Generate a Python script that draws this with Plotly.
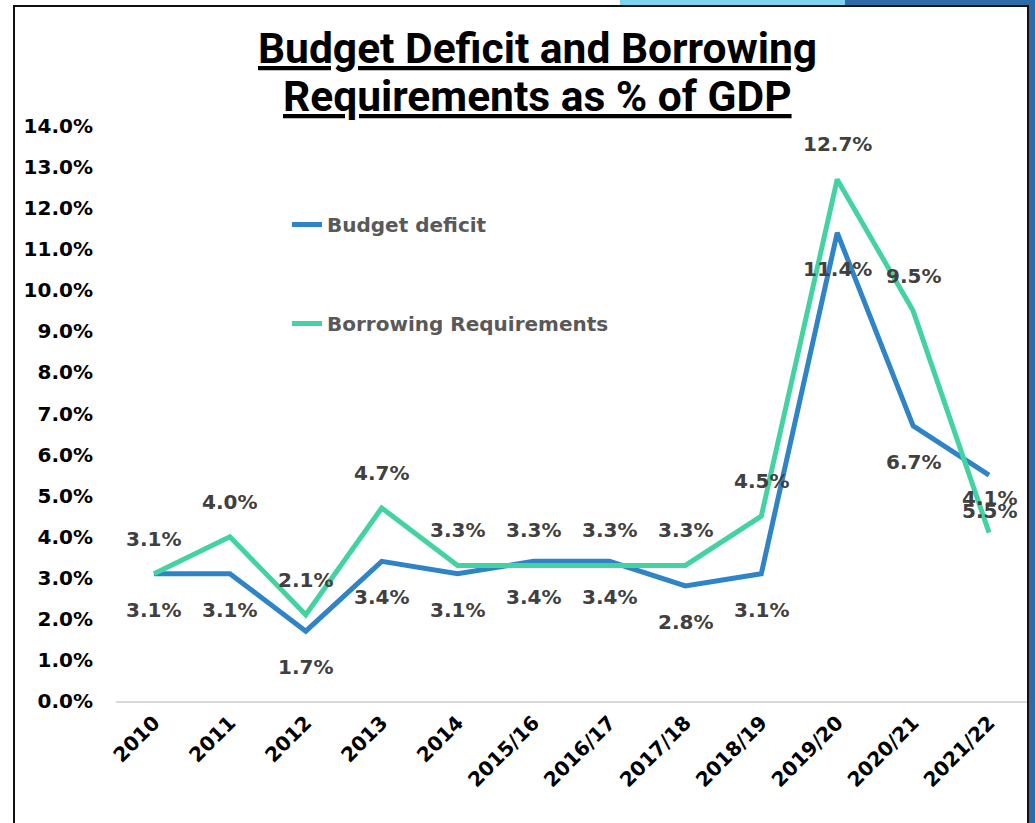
import plotly.graph_objects as go

categories = ["2010", "2011", "2012", "2013", "2014", "2015/16", "2016/17",
              "2017/18", "2018/19", "2019/20", "2020/21", "2021/22"]
budget_deficit = [3.1, 3.1, 1.7, 3.4, 3.1, 3.4, 3.4, 2.8, 3.1, 11.4, 6.7, 5.5]
borrowing_req = [3.1, 4.0, 2.1, 4.7, 3.3, 3.3, 3.3, 3.3, 4.5, 12.7, 9.5, 4.1]
y_ticks = [i for i in range(0, 15)]

W, H = 1035, 823
ML, MR, MT, MB = 116, 8, 126, 122
PW, PH = W - ML - MR, H - MT - MB


def px(x):
    return (x - ML) / PW


def py(y):
    return 1 - (y - MT) / PH


BLUE = "#2E84C6"
GREEN = "#43D3A0"
LABEL = "#404040"
FONT = "DejaVu Sans"

fig = go.Figure()
fig.add_trace(go.Scatter(x=categories, y=budget_deficit, mode="lines",
                         name="Budget deficit", legendgroup="a",
                         line=dict(color=BLUE, width=5)))
fig.add_trace(go.Scatter(x=categories, y=borrowing_req, mode="lines",
                         name="Borrowing Requirements", legendgroup="b",
                         line=dict(color=GREEN, width=5)))

annotations = []
for i, v in enumerate(borrowing_req):
    annotations.append(dict(x=i, y=v, xref="x", yref="y", text=f"{v:.1f}%",
                            showarrow=False, yshift=35,
                            font=dict(family=FONT, size=20, color=LABEL, weight="bold")))
for i, v in enumerate(budget_deficit):
    annotations.append(dict(x=i, y=v, xref="x", yref="y", text=f"{v:.1f}%",
                            showarrow=False, yshift=-36,
                            font=dict(family=FONT, size=20, color=LABEL, weight="bold")))

title_font = dict(family="Roboto, sans-serif", size=42.5, color="#000000", weight="bold")
annotations.append(dict(x=px(537), y=py(48), xref="paper", yref="paper",
                        text="<u>Budget Deficit and Borrowing</u>", showarrow=False,
                        xanchor="center", yanchor="middle", font=title_font))
annotations.append(dict(x=px(537), y=py(96), xref="paper", yref="paper",
                        text="<u>Requirements as % of GDP</u>", showarrow=False,
                        xanchor="center", yanchor="middle", font=title_font))

shapes = [
    dict(type="rect", xref="paper", yref="paper", x0=px(620), x1=px(845), y0=py(0), y1=py(5),
         fillcolor="#7DD3F0", line=dict(width=0), layer="above"),
    dict(type="rect", xref="paper", yref="paper", x0=px(845), x1=px(1035), y0=py(0), y1=py(5),
         fillcolor="#2B6CA6", line=dict(width=0), layer="above"),
    dict(type="rect", xref="paper", yref="paper", x0=px(1029), x1=px(1035), y0=py(0), y1=py(823),
         fillcolor="#2B6CA6", line=dict(width=0), layer="above"),
    dict(type="line", xref="paper", yref="paper", x0=px(13), x1=px(1029), y0=py(6), y1=py(6),
         line=dict(color="#111111", width=2), layer="above"),
    dict(type="line", xref="paper", yref="paper", x0=px(14), x1=px(14), y0=py(6), y1=py(823),
         line=dict(color="#111111", width=2), layer="above"),
    dict(type="line", xref="paper", yref="paper", x0=px(1028), x1=px(1028), y0=py(6), y1=py(823),
         line=dict(color="#111111", width=2), layer="above"),
]

fig.update_layout(
    width=W, height=H,
    margin=dict(l=ML, r=MR, t=MT, b=MB),
    paper_bgcolor="white", plot_bgcolor="white",
    annotations=annotations, shapes=shapes,
    showlegend=True,
    legend=dict(x=px(287), y=py(205), xanchor="left", yanchor="top",
                bgcolor="rgba(0,0,0,0)", tracegroupgap=70,
                font=dict(family=FONT, size=20, color="#595959", weight="bold")),
    xaxis=dict(type="category", categoryorder="array", categoryarray=categories,
               range=[-0.5, len(categories) - 0.5],
               showgrid=False, zeroline=False,
               showline=True, linecolor="#D9D9D9", linewidth=2,
               tickangle=-45, ticks="",
               tickfont=dict(family=FONT, size=20, color="#000000", weight="bold")),
    yaxis=dict(range=[0, 14], tickvals=y_ticks, ticktext=[f"{t:.1f}%" for t in y_ticks],
               showgrid=False, zeroline=False, showline=False, ticks="",
               ticklabelstandoff=22,
               tickfont=dict(family=FONT, size=20, color="#000000", weight="bold")),
)

fig.write_html("out.html")
